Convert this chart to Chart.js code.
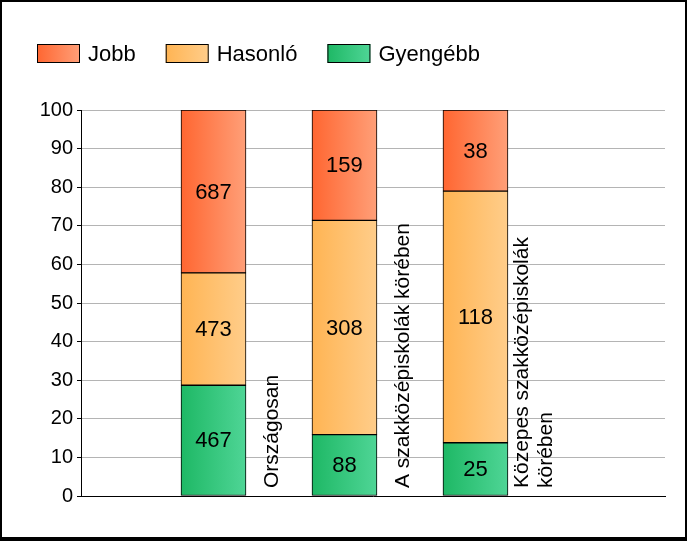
<!DOCTYPE html>
<html>
<head>
<meta charset="utf-8">
<script src="https://cdn.jsdelivr.net/npm/chart.js@4/dist/chart.umd.min.js"></script>
<style>
html, body { margin: 0; padding: 0; background: #fff; }
#wrap { width: 687px; height: 541px; position: relative; }
canvas { display: block; }
</style>
</head>
<body>
<div id="wrap"><canvas id="c" width="687" height="541"></canvas></div>
<script>
// ---- data ----
const categories = ['Országosan', 'A szakközépiskolák körében', ['Közepes szakközépiskolák', 'körében']];
const categoryPositions = [1, 2, 3];
const seriesNames = ['Gyengébb', 'Hasonló', 'Jobb'];
const legendOrder = ['Jobb', 'Hasonló', 'Gyengébb'];
// percentage shares (bar heights)
const gyengebbPct = [28.7, 15.9, 13.8];
const hasonloPct = [29.1, 55.5, 65.2];
const jobbPct = [42.2, 28.6, 21.0];
// counts printed inside the bars
const gyengebbCount = [467, 88, 25];
const hasonloCount = [473, 308, 118];
const jobbCount = [687, 159, 38];
const yTickMin = 0, yTickMax = 100, yTickStep = 10;

// ---- styling ----
const FONT = '"Liberation Sans", Arial, sans-serif';
const gradStops = {
  'Jobb': ['#ff6631', '#ff9f78'],
  'Hasonló': ['#ffb453', '#ffcd8a'],
  'Gyengébb': ['#1eb865', '#4fd596']
};

function makeGrad(ctx, x0, x1, name) {
  const g = ctx.createLinearGradient(x0, 0, x1, 0);
  g.addColorStop(0, gradStops[name][0]);
  g.addColorStop(1, gradStops[name][1]);
  return g;
}

const BAR_W = 65;
function barBg(name) {
  return (c) => {
    const chart = c.chart;
    if (!chart.chartArea || c.type !== 'data' || !chart.scales.x) return gradStops[name][0];
    const cx = chart.scales.x.getPixelForValue(c.parsed ? c.parsed.x : categoryPositions[c.dataIndex]);
    return makeGrad(chart.ctx, cx - BAR_W / 2, cx + BAR_W / 2, name);
  };
}

const pctSeries = [gyengebbPct, hasonloPct, jobbPct];
const countSeries = [gyengebbCount, hasonloCount, jobbCount];

const datasets = seriesNames.map((name, k) => ({
  label: name,
  data: categoryPositions.map((x, i) => ({ x: x, y: pctSeries[k][i] })),
  counts: countSeries[k],
  backgroundColor: barBg(name),
  borderColor: '#000',
  borderWidth: 1,
  borderSkipped: false,
  barThickness: BAR_W
}));

const framePlugin = {
  id: 'frame',
  beforeDraw(chart) {
    const ctx = chart.ctx;
    ctx.save();
    ctx.fillStyle = '#000';
    ctx.fillRect(0, 0, chart.width, chart.height);
    ctx.fillStyle = '#fff';
    ctx.fillRect(2, 2, chart.width - 4, chart.height - 6);
    ctx.restore();
  }
};

const valueLabels = {
  id: 'valueLabels',
  afterDatasetsDraw(chart) {
    const ctx = chart.ctx;
    ctx.save();
    ctx.font = '22px ' + FONT;
    ctx.fillStyle = '#000';
    ctx.textAlign = 'center';
    ctx.textBaseline = 'middle';
    chart.data.datasets.forEach((ds, k) => {
      const meta = chart.getDatasetMeta(k);
      meta.data.forEach((el, i) => {
        const y = (el.y + el.base) / 2;
        ctx.fillText(String(ds.counts[i]), el.x, y + 1);
      });
    });
    ctx.restore();
  }
};

const categoryLabels = {
  id: 'categoryLabels',
  afterDraw(chart) {
    const ctx = chart.ctx;
    const meta = chart.getDatasetMeta(0);
    const lineH = 24;
    ctx.save();
    ctx.font = '21px ' + FONT;
    ctx.fillStyle = '#000';
    ctx.textAlign = 'left';
    ctx.textBaseline = 'middle';
    meta.data.forEach((el, i) => {
      const lines = Array.isArray(categories[i]) ? categories[i] : [categories[i]];
      const right = el.x + el.width / 2;
      const cx = right + 26;
      const startY = chart.chartArea.bottom - 8;
      ctx.save();
      ctx.translate(cx, startY);
      ctx.rotate(-Math.PI / 2);
      lines.forEach((t, j) => {
        const off = (j - (lines.length - 1) / 2) * lineH;
        ctx.fillText(t, 0, off);
      });
      ctx.restore();
    });
    ctx.restore();
  }
};

const customLegend = {
  id: 'customLegend',
  afterDraw(chart) {
    const ctx = chart.ctx;
    ctx.save();
    ctx.font = '22px ' + FONT;
    ctx.textBaseline = 'middle';
    ctx.textAlign = 'left';
    let x = 37;
    const y = 44, bw = 43, bh = 19;
    legendOrder.forEach((name) => {
      ctx.fillStyle = makeGrad(ctx, x, x + bw, name);
      ctx.fillRect(x, y, bw, bh);
      ctx.strokeStyle = '#000';
      ctx.lineWidth = 1;
      ctx.strokeRect(x + 0.5, y + 0.5, bw - 1, bh - 1);
      ctx.fillStyle = '#000';
      const tx = x + 51;
      ctx.fillText(name, tx, y + bh / 2 + 1);
      x = tx + ctx.measureText(name).width + 30;
    });
    ctx.restore();
  }
};

const chart = new Chart(document.getElementById('c'), {
  type: 'bar',
  data: { datasets: datasets },
  options: {
    responsive: false,
    animation: false,
    devicePixelRatio: 1,
    layout: { padding: { left: 0, right: 22, top: 110, bottom: 45 } },
    plugins: {
      legend: { display: false },
      tooltip: { enabled: false },
      title: { display: false }
    },
    scales: {
      x: {
        type: 'linear',
        stacked: true,
        offset: false,
        min: -0.0115,
        max: 4.447,
        grid: { display: false },
        ticks: { display: false },
        border: { display: true, color: '#000', width: 1 },
        afterFit: (s) => { s.height = 0; }
      },
      y: {
        stacked: true,
        min: yTickMin,
        max: yTickMax,
        ticks: {
          stepSize: yTickStep,
          color: '#000',
          padding: 4,
          font: { family: FONT, size: 20 }
        },
        grid: { color: '#b4b4b4', tickColor: '#000', tickLength: 4, lineWidth: 1 },
        border: { display: true, color: '#000', width: 1 },
        afterFit: (s) => { s.width = 81; }
      }
    }
  },
  plugins: [framePlugin, valueLabels, categoryLabels, customLegend]
});
chart.update();
</script>
</body>
</html>
